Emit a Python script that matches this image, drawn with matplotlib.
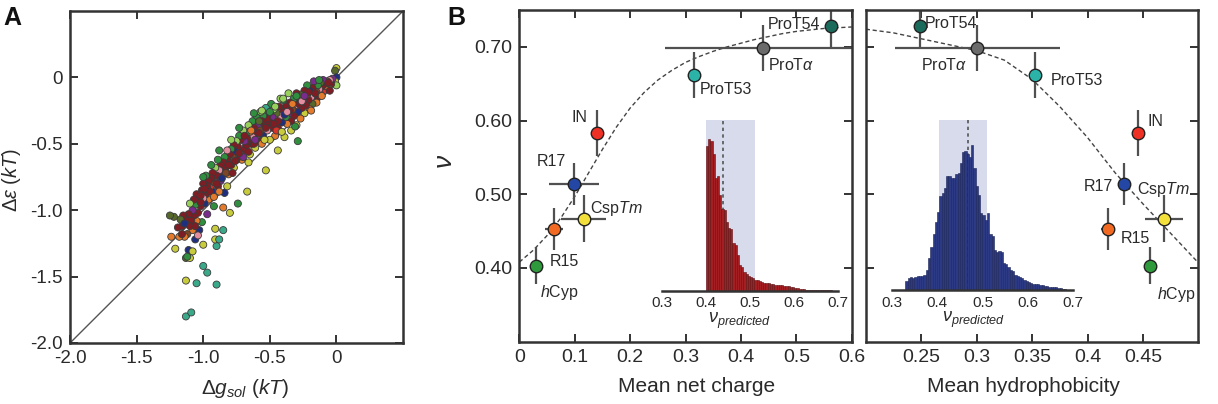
import matplotlib
matplotlib.use('Agg')
import matplotlib.pyplot as plt

plt.rcParams['font.family'] = ['Liberation Sans', 'DejaVu Sans']
plt.rcParams['mathtext.fontset'] = 'custom'
plt.rcParams['mathtext.rm'] = 'Liberation Sans'
plt.rcParams['mathtext.it'] = 'Liberation Sans:italic'
plt.rcParams['mathtext.bf'] = 'Liberation Sans:bold'

# ---------------- Panel A data (groups of 10) ----------------
dg_sol = [
    0.00, -0.01, 0.00, -0.01, 0.00, -0.03, -0.04, -0.05, -0.06, -0.07,
    -0.08, -0.09, -0.10, -0.10, -0.11, -0.12, -0.12, -0.13, -0.14, -0.14,
    -0.15, -0.15, -0.17, -0.17, -0.18, -0.18, -0.19, -0.20, -0.20, -0.21,
    -0.22, -0.22, -0.23, -0.24, -0.24, -0.25, -0.26, -0.27, -0.27, -0.28,
    -0.29, -0.29, -0.30, -0.30, -0.31, -0.32, -0.32, -0.33, -0.34, -0.34,
    -0.35, -0.36, -0.36, -0.37, -0.38, -0.38, -0.39, -0.40, -0.40, -0.41,
    -0.42, -0.42, -0.43, -0.44, -0.44, -0.45, -0.46, -0.46, -0.47, -0.48,
    -0.48, -0.49, -0.50, -0.50, -0.51, -0.52, -0.52, -0.53, -0.53, -0.54,
    -0.55, -0.55, -0.56, -0.57, -0.57, -0.58, -0.59, -0.60, -0.60, -0.61,
    -0.62, -0.63, -0.63, -0.64, -0.65, -0.65, -0.66, -0.67, -0.67, -0.68,
    -0.68, -0.69, -0.70, -0.70, -0.71, -0.72, -0.72, -0.73, -0.74, -0.74,
    -0.75, -0.75, -0.76, -0.77, -0.77, -0.78, -0.79, -0.79, -0.80, -0.80,
    -0.81, -0.82, -0.82, -0.83, -0.84, -0.84, -0.85, -0.85, -0.85, -0.86,
    -0.87, -0.87, -0.88, -0.89, -0.89, -0.90, -0.90, -0.91, -0.91, -0.91,
    -0.92, -0.93, -0.93, -0.94, -0.95, -0.96, -0.96, -0.97, -0.97, -0.98,
    -0.98, -0.99, -1.00, -1.00, -1.01, -1.01, -1.02, -1.03, -1.03, -1.04,
    -1.04, -1.05, -1.05, -1.06, -1.06, -1.07, -1.07, -1.08, -1.08, -1.09,
    -1.10, -1.10, -1.11, -1.11, -1.12, -1.13, -1.13, -1.14, -1.15, -1.16,
    -1.17, -1.18, -1.19, -1.21, -1.22, -1.24, -1.25, -1.08, -1.10, -1.12,
    -1.00, -1.00, -0.97, -1.13, -1.05, -0.90, -1.13, -1.09, -0.88, -0.62,
    -0.70, -0.90, -0.58, -0.66, -0.44, -0.28, -0.16, -0.06, -0.35, -0.47,
    -0.76, -0.95, -1.02, -0.26, -0.39, -0.53, -0.61, -0.73, -0.83, -0.99,
    -0.21, -0.33, -0.45, -0.56, -0.64, -0.78, -0.86, -0.92, -1.06, -1.14,
    -0.11, -0.24, -0.37, -0.50, -0.58, -0.69, -0.81, -0.88, -0.94, -1.02,
    -0.05, -0.19, -0.31, -0.41, -0.54, -0.66, -0.82, -0.92, -1.04, -1.16,
    -0.13, -0.30, -0.40, -0.46, -0.56, -0.62, -0.73, -0.79, -0.88, -1.00]
d_eps = [
    0.07, 0.05, 0.00, -0.03, -0.06, -0.01, -0.05, -0.02, -0.07, -0.03,
    -0.09, -0.05, -0.11, -0.02, -0.07, -0.13, -0.04, -0.09, -0.15, -0.06,
    -0.11, -0.19, -0.03, -0.13, -0.08, -0.20, -0.15, -0.10, -0.24, -0.17,
    -0.06, -0.13, -0.21, -0.27, -0.10, -0.17, -0.23, -0.13, -0.31, -0.19,
    -0.48, -0.26, -0.12, -0.36, -0.21, -0.29, -0.16, -0.24, -0.33, -0.40,
    -0.19, -0.27, -0.12, -0.35, -0.22, -0.30, -0.45, -0.26, -0.17, -0.34,
    -0.16, -0.29, -0.22, -0.38, -0.55, -0.27, -0.33, -0.44, -0.24, -0.30,
    -0.38, -0.20, -0.34, -0.47, -0.27, -0.40, -0.31, -0.70, -0.23, -0.36,
    -0.44, -0.29, -0.33, -0.40, -0.26, -0.48, -0.35, -0.42, -0.30, -0.53,
    -0.38, -0.45, -0.33, -0.50, -0.41, -0.58, -0.36, -0.46, -0.86, -0.52,
    -0.42, -0.48, -0.55, -0.40, -0.62, -0.47, -0.58, -0.44, -0.52, -0.95,
    -0.62, -0.48, -0.56, -0.68, -0.51, -0.60, -0.54, -0.66, -0.58, -1.02,
    -0.73, -0.62, -0.55, -0.68, -0.60, -0.87, -0.64, -0.98, -1.15, -0.72,
    -0.66, -0.78, -0.70, -0.62, -0.82, -0.74, -1.27, -1.14, -1.22, -0.68,
    -0.79, -0.72, -0.86, -0.76, -0.83, -0.78, -0.92, -0.82, -1.03, -0.74,
    -0.88, -0.95, -0.80, -0.91, -1.09, -0.85, -0.97, -0.90, -1.15, -0.93,
    -1.02, -0.88, -1.08, -0.96, -1.22, -1.04, -0.92, -1.15, -1.00, -1.08,
    -0.95, -1.12, -1.30, -1.03, -1.18, -1.07, -1.36, -1.20, -1.04, -1.12,
    -1.07, -1.20, -1.13, -1.29, -1.05, -1.20, -1.04, -1.31, -1.36, -1.35,
    -1.26, -1.42, -1.47, -1.53, -1.55, -1.56, -1.80, -1.77, -1.22, -0.50,
    -0.60, -0.80, -0.42, -0.56, -0.33, -0.20, -0.12, -0.04, -0.25, -0.35,
    -0.63, -0.86, -0.94, -0.18, -0.28, -0.38, -0.47, -0.57, -0.72, -0.84,
    -0.11, -0.20, -0.40, -0.50, -0.40, -0.72, -0.76, -0.90, -1.12, -1.10,
    -0.14, -0.14, -0.26, -0.26, -0.33, -0.44, -0.66, -0.86, -0.66, -0.89,
    -0.10, -0.25, -0.37, -0.41, -0.47, -0.64, -0.82, -0.97, -1.19, -1.18,
    -0.02, -0.14, -0.16, -0.22, -0.25, -0.27, -0.38, -0.47, -0.55, -0.75]
point_kind = ("yvbylpRknv" "oRrpRovkRg" "noppRvkboR" "gnRyRpRvoR" "gbRykRgnRy"
              "RploRgyRgb" "lkRRyvRolp" "RgRygkRytR" "bgRnlRpRgy" "RkgRoylRyR"
              "gpRloRkgRg" "RlbyRngRRy" "oRkRgbRotR" "RpkgRRtyyl" "nRbRrRoRpg"
              "RbRkgRRnbR" "RRogbRRopR" "lRbRnRvoRR" "voRyvovyyg" "yttyttttTR"
              "pRRRRRRRRR" "RRRkbRpRnR" "RorooRboRb" "opkgvRRogR" "RogyyyygkR"
              "gglllgglgg")
kind_colors = {'R': '#7e1d24', 'r': '#d8342a', 'o': '#e47a2c', 'g': '#2f8f3f', 'l': '#98d05c',
               'y': '#c8cc3c', 't': '#3aa98a', 'T': '#3aa98a', 'b': '#1f2f80', 'p': '#7a2c8c',
               'k': '#e48ca0', 'n': '#7b4526', 'v': '#56682a'}
assert len(dg_sol) == len(d_eps) == len(point_kind)

# ---------------- Panel B data ----------------
proteins = ['hCyp', 'R15', 'R17', 'CspTm', 'IN', 'ProT53', 'ProTa', 'ProT54']
protein_labels = [r'$\mathit{h}$Cyp', 'R15', 'R17', r'Csp$\mathit{Tm}$', 'IN', 'ProT53',
                  r'ProT$\alpha$', 'ProT54']
protein_colors = ['#2e9a3c', '#f26a21', '#2447a5', '#f3e03a', '#ee3124', '#2bb3a8', '#6b6b6b', '#1a6b5c']
nu = [0.403, 0.453, 0.514, 0.467, 0.583, 0.662, 0.698, 0.728]
nu_err = [0.025, 0.028, 0.028, 0.032, 0.031, 0.031, 0.031, 0.029]
net_charge = [0.030, 0.063, 0.098, 0.116, 0.140, 0.315, 0.439, 0.563]
net_charge_err = [0.010, 0.016, 0.045, 0.041, 0.0, 0.0, 0.176, 0.0]
hydrophobicity = [0.4568, 0.4182, 0.4327, 0.4688, 0.4453, 0.3528, 0.3007, 0.2488]
hydrophobicity_err = [0.0, 0.006, 0.0, 0.017, 0.0, 0.0, 0.0746, 0.0]

# dashed fit curves
charge_fit_x = [0.000, 0.025, 0.050, 0.075, 0.100, 0.125, 0.150, 0.175, 0.200, 0.225, 0.250, 0.275,
                0.300, 0.325, 0.350, 0.375, 0.400, 0.425, 0.450, 0.475, 0.500, 0.525, 0.550, 0.575, 0.600]
charge_fit_y = [0.408, 0.424, 0.444, 0.468, 0.497, 0.529, 0.561, 0.591, 0.617, 0.638, 0.655, 0.668,
                0.679, 0.687, 0.694, 0.700, 0.705, 0.710, 0.714, 0.718, 0.721, 0.723, 0.725, 0.726, 0.727]
hydro_fit_x = [0.200, 0.225, 0.250, 0.275, 0.300, 0.325, 0.350, 0.375, 0.400, 0.425, 0.450, 0.475, 0.500]
hydro_fit_y = [0.724, 0.719, 0.711, 0.703, 0.695, 0.682, 0.656, 0.619, 0.577, 0.529, 0.487, 0.447, 0.407]

# histograms of predicted nu (bin starts, width 0.005; heights relative to shaded box)
hist_bin_width = 0.005
charge_hist_bins = [0.400 + 0.005 * i for i in range(57)]
charge_hist = [0.85, 0.89, 0.88, 0.80, 0.66, 0.67, 0.56, 0.48, 0.47, 0.40, 0.37, 0.36, 0.28, 0.27,
               0.21, 0.15, 0.14, 0.11, 0.10, 0.085, 0.08, 0.075, 0.065, 0.06, 0.055, 0.05, 0.048,
               0.045, 0.043, 0.04, 0.038, 0.036, 0.035, 0.033, 0.032, 0.03, 0.028, 0.025, 0.022,
               0.02, 0.017, 0.014, 0.012, 0.01, 0.008, 0.007, 0.006, 0.005, 0.004, 0.003, 0.003,
               0.003, 0.003, 0.003, 0.003, 0.002, 0.002]
charge_shade = (0.401, 0.511)
charge_mean = 0.439
hydro_hist_bins = [0.330 + 0.005 * i for i in range(71)]
hydro_hist = [0.05, 0.07, 0.075, 0.07, 0.075, 0.085, 0.085, 0.085, 0.09, 0.12, 0.19, 0.25, 0.33, 0.40,
              0.46, 0.55, 0.57, 0.60, 0.67, 0.67, 0.66, 0.66, 0.68, 0.69, 0.745, 0.81, 0.82, 0.80,
              0.78, 0.85, 0.72, 0.61, 0.56, 0.45, 0.44, 0.41, 0.45, 0.33, 0.32, 0.235, 0.225, 0.23,
              0.225, 0.157, 0.15, 0.137, 0.118, 0.11, 0.09, 0.085, 0.075, 0.07, 0.06, 0.05, 0.045,
              0.04, 0.038, 0.035, 0.033, 0.03, 0.028, 0.025, 0.023, 0.02, 0.02, 0.018, 0.015, 0.013,
              0.01, 0.008, 0.005]
hydro_shade = (0.405, 0.511)
hydro_mean = 0.467

# label placement (data coords) for panel B
charge_label_pos = {'hCyp': (0.038, 0.367, 'left'), 'R15': (0.055, 0.409, 'left'),
                    'R17': (0.032, 0.545, 'left'), 'CspTm': (0.128, 0.481, 'left'),
                    'IN': (0.122, 0.604, 'right'), 'ProT53': (0.326, 0.642, 'left'),
                    'ProTa': (0.449, 0.676, 'left'), 'ProT54': (0.448, 0.731, 'left')}
hydro_label_pos = {'hCyp': (0.463, 0.364, 'left'), 'R15': (0.4298, 0.440, 'left'),
                   'R17': (0.4232, 0.510, 'right'), 'CspTm': (0.4443, 0.507, 'left'),
                   'IN': (0.454, 0.599, 'left'), 'ProT53': (0.3666, 0.655, 'left'),
                   'ProTa': (0.2497, 0.675, 'left'), 'ProT54': (0.2536, 0.732, 'left')}

# ---------------- figure ----------------
TXT = '#2a2a2a'
SP = '#333333'
fig = plt.figure(figsize=(12.18, 4.04), dpi=100)


def style_axes(ax, size):
    for s in ax.spines.values():
        s.set_color(SP)
        s.set_linewidth(1.8)
    ax.tick_params(direction='in', top=True, right=True, length=6, width=1.4,
                   color=SP, labelcolor=TXT, labelsize=size, pad=5)


# Panel A
axA = fig.add_axes([0.0575, 0.151, 0.2734, 0.8218])
axA.plot([-2.0, 0.5], [-2.0, 0.5], color='#555555', lw=1.0, zorder=1)
axA.scatter(dg_sol, d_eps, s=26, c=[kind_colors[k] for k in point_kind],
            edgecolors='#3a3a3a', linewidths=0.6, zorder=2)
axA.set_xlim(-2.0, 0.5)
axA.set_ylim(-2.0, 0.5)
ticksA = [-2.0, -1.5, -1.0, -0.5, 0.0]
ticklabA = ['-2.0', '-1.5', '-1.0', '-0.5', '0']
axA.set_xticks(ticksA)
axA.set_xticklabels(ticklabA)
axA.set_yticks(ticksA)
axA.set_yticklabels(ticklabA)
style_axes(axA, 13.5)
axA.set_xlabel(r'$\Delta \mathit{g}_{\mathit{sol}}$ ($\mathit{kT}$)', fontsize=15, color=TXT, va='center')
axA.xaxis.set_label_coords(0.526, -0.136)
axA.set_ylabel(r'$\Delta\varepsilon$ ($\mathit{kT}$)', fontsize=14.5, color=TXT, va='center')
axA.yaxis.set_label_coords(-0.176, 0.491)

# Panel B
axL = fig.add_axes([0.4264, 0.1542, 0.2729, 0.8210])
axR = fig.add_axes([0.7108, 0.1542, 0.2731, 0.8210])

for ax, xs, xerr, fx, fy, lpos in [(axL, net_charge, net_charge_err, charge_fit_x, charge_fit_y, charge_label_pos),
                                   (axR, hydrophobicity, hydrophobicity_err, hydro_fit_x, hydro_fit_y, hydro_label_pos)]:
    ax.plot(fx, fy, ls=(0, (3, 2)), color='#444444', lw=1.0, zorder=1)
    for i, p in enumerate(proteins):
        ax.errorbar(xs[i], nu[i], yerr=nu_err[i], xerr=xerr[i] if xerr[i] > 0 else None,
                    fmt='none', ecolor='#505050', elinewidth=1.6, capsize=0, zorder=2)
        ax.plot(xs[i], nu[i], 'o', ms=9, mfc=protein_colors[i], mec='#222222', mew=1.0, zorder=3)
        tx, ty, ha = lpos[p]
        ax.text(tx, ty, protein_labels[i], ha=ha, va='center', fontsize=11.5, color=TXT, zorder=4)
    ax.set_ylim(0.30, 0.75)
    ax.set_yticks([0.40, 0.50, 0.60, 0.70])

axL.set_xlim(0.0, 0.6)
axL.set_xticks([0, 0.1, 0.2, 0.3, 0.4, 0.5, 0.6])
axL.set_xticklabels(['0', '0.1', '0.2', '0.3', '0.4', '0.5', '0.6'])
axL.set_yticklabels(['0.40', '0.50', '0.60', '0.70'])
style_axes(axL, 14)
axL.set_xlabel('Mean net charge', fontsize=15, color=TXT, va='center')
axL.xaxis.set_label_coords(0.533, -0.136)
axL.set_ylabel(r'$\nu$', fontsize=19, color=TXT, va='center')
axL.yaxis.set_label_coords(-0.223, 0.542)

axR.set_xlim(0.2, 0.5)
axR.set_xticks([0.25, 0.30, 0.35, 0.40, 0.45])
axR.set_xticklabels(['0.25', '0.3', '0.35', '0.4', '0.45'])
style_axes(axR, 14)
axR.tick_params(labelleft=False)
axR.set_xlabel('Mean hydrophobicity', fontsize=15, color=TXT, va='center')
axR.xaxis.set_label_coords(0.473, -0.136)

# Insets
for rect, bins, heights, shade, mean, fc, ec, lab_x in [
        ([0.5433, 0.2804, 0.1450, 0.4225], charge_hist_bins, charge_hist, charge_shade, charge_mean,
         '#a51f22', '#5e1012', 0.44),
        ([0.7321, 0.2822, 0.1491, 0.4208], hydro_hist_bins, hydro_hist, hydro_shade, hydro_mean,
         '#2c3a86', '#1a2256', 0.45)]:
    ins = fig.add_axes(rect)
    ins.set_facecolor('none')
    ins.axvspan(shade[0], shade[1], ymin=0, ymax=1, color='#d7dbec', lw=0, zorder=0)
    ins.bar(bins, heights, width=hist_bin_width, align='edge', color=fc, edgecolor=ec,
            linewidth=0.4, zorder=2)
    ins.plot([mean, mean], [0, 1], ls=(0, (2, 2)), color='#555555', lw=1.2, zorder=1)
    ins.set_xlim(0.3, 0.7)
    ins.set_ylim(0, 1)
    for s in ['top', 'right', 'left']:
        ins.spines[s].set_visible(False)
    ins.spines['bottom'].set_color(SP)
    ins.spines['bottom'].set_linewidth(1.8)
    ins.set_yticks([])
    ins.set_xticks([0.3, 0.4, 0.5, 0.6, 0.7])
    ins.set_xticklabels(['0.3', '0.4', '0.5', '0.6', '0.7'])
    ins.tick_params(axis='x', length=0, labelsize=11, labelcolor=TXT, pad=4)
    ins.set_xlabel(r'$\nu_{\mathit{predicted}}$', fontsize=13, color=TXT, va='center')
    ins.xaxis.set_label_coords(lab_x, -0.175)

fig.text(3 / 1218, 1 - 6 / 404, 'A', fontsize=18, fontweight='bold', va='top', ha='left', color='#111111')
fig.text(447 / 1218, 1 - 6 / 404, 'B', fontsize=18, fontweight='bold', va='top', ha='left', color='#111111')

fig.savefig('out.png', dpi=100)
